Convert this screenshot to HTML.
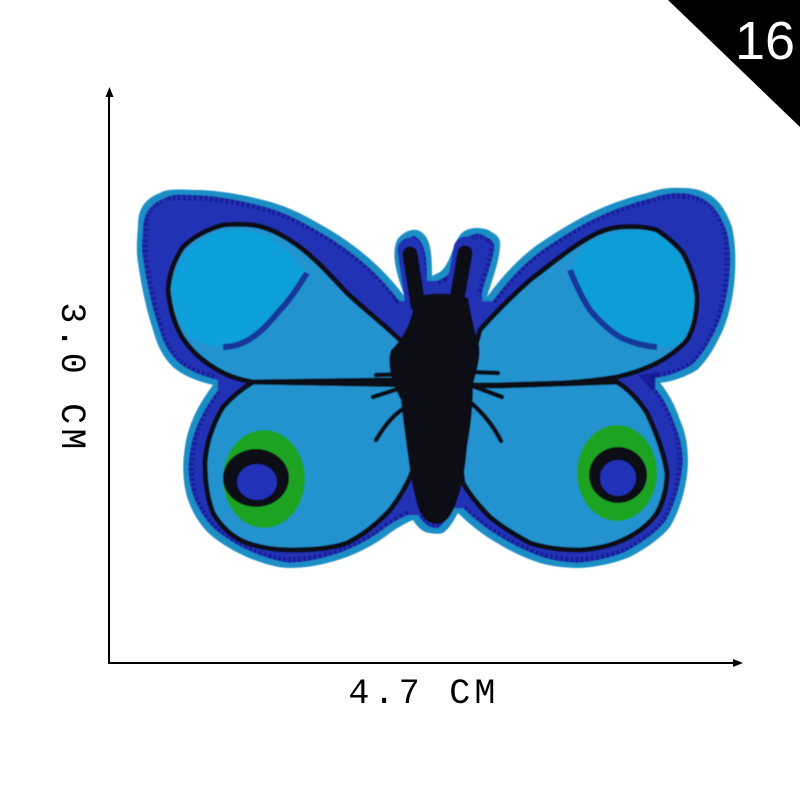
<!DOCTYPE html>
<html lang="en">
<head>
<meta charset="utf-8">
<title>Butterfly patch dimensions</title>
<style>
html,body{margin:0;padding:0;background:#fff;}
svg{display:block;}
</style>
</head>
<body>
<svg width="800" height="800" viewBox="0 0 800 800" xmlns="http://www.w3.org/2000/svg">
<defs>
<filter id="erode" x="-5%" y="-5%" width="110%" height="110%"><feMorphology operator="erode" radius="5"/></filter>
<filter id="soft" x="-5%" y="-5%" width="110%" height="110%"><feGaussianBlur stdDeviation="0.6"/></filter>
<path id="felt" d="M405 297C385 270 360 248 330 230C305 215 285 205 263 200C240 194 215 190 197 190C178 189 165 189 160 193C146 198 138 208 138 225C137 240 136 250 138 263C142 290 147 312 153 330C158 348 164 358 173 367C183 376 200 382 213 385C198 405 188 425 185 447C182 465 183 482 187 497C193 515 202 528 213 537C230 550 247 558 263 563C273 566 281 568 290 568C310 568 330 563 347 557C365 550 380 541 390 533C400 526 408 522 413 520C418 528 424 533 430 533C435 534 439 534 443 533C450 528 454 520 458 513C470 525 483 535 497 543C510 551 525 558 540 563C555 567 567 568 580 568C598 567 615 563 630 557C645 549 660 539 670 527C680 510 687 487 688 463C688 447 686 433 680 420C675 405 668 392 660 383C675 381 687 376 697 370C708 360 716 345 723 330C730 313 734 293 735 273C736 255 735 240 732 227C727 213 721 203 713 197C705 191 695 188 683 188C670 187 658 189 647 193C630 197 613 203 597 210C577 219 558 231 540 243C521 256 503 275 487 297C492 280 499 263 500 247C501 240 498 235 493 233C488 229 483 228 477 228C470 228 464 230 460 235C455 242 453 250 450 257C447 264 444 269 440 272L432 276C432 268 432 257 430 247C428 238 424 232 417 230C409 229 402 233 397 240C394 247 394 255 395 263C397 275 401 287 405 297Z"/>
<mask id="band-mask" maskUnits="userSpaceOnUse" x="0" y="0" width="800" height="800">
<use href="#felt" fill="#ffffff" filter="url(#erode)"/>
</mask>
</defs>

<rect width="800" height="800" fill="#ffffff"/>

<g>
<polygon points="668,0 800,0 800,127" fill="#000000"/>
<text x="765" y="59" text-anchor="middle" font-family="'Liberation Sans',sans-serif" font-size="54" fill="#ffffff">16</text>
</g>

<g fill="#000">
<rect x="108" y="94" width="2" height="570"/>
<polygon points="109.500,87 105.500,97 113.500,97"/>
<rect x="108" y="662" width="628" height="2"/>
<polygon points="743,663 733,659 733,667"/>
<text x="424" y="703" text-anchor="middle" font-family="'Liberation Mono',monospace" font-size="35" letter-spacing="4.200">4.7 CM</text>
<text transform="translate(62 378) rotate(90)" text-anchor="middle" font-family="'Liberation Mono',monospace" font-size="35" letter-spacing="4.200">3.0 CM</text>
</g>

<g filter="url(#soft)">
<use href="#felt" fill="#1e8ec6"/>
<use href="#felt" fill="#2030b4" filter="url(#erode)"/>
<g mask="url(#band-mask)">
<use href="#felt" fill="none" stroke="#141f96" stroke-width="22" stroke-dasharray="2.500 3"/>
</g>

<!-- wing interiors bounded by the black stitch line -->
<path d="M403 343C385 325 365 310 347 293C330 275 315 258 297 245C283 235 268 227 253 225C243 224 233 224 223 225C205 230 192 238 183 247C174 260 169 275 168 290C170 310 175 325 182 337C192 352 202 360 213 367C225 375 240 380 253 382L397 380Z" fill="#2293cf" stroke="#0b0d16" stroke-width="5" stroke-linejoin="round"/>
<path d="M253 382C240 390 231 398 223 407C212 425 206 445 205 463C205 482 208 500 213 513C222 528 234 538 247 543C262 548 275 550 290 550C310 550 330 549 347 543C363 535 378 523 390 510C400 497 408 483 413 470L420 385Z" fill="#2293cf" stroke="#0b0d16" stroke-width="5" stroke-linejoin="round"/>
<path d="M480 330C495 313 512 296 530 280C550 265 570 248 590 237C600 231 610 228 620 227C635 226 647 227 657 230C668 238 677 245 683 253C691 268 696 282 697 297C697 315 693 330 687 340C678 350 668 357 657 363C645 369 630 374 617 377C600 380 580 382 563 383L497 385L465 385Z" fill="#2293cf" stroke="#0b0d16" stroke-width="5" stroke-linejoin="round"/>
<path d="M617 382C630 390 640 402 647 413C656 432 664 452 667 473C667 488 663 502 657 513C648 526 636 534 623 540C610 546 595 549 580 550C563 550 545 548 530 543C515 535 502 527 490 517C480 507 470 495 463 483L450 385L497 386Z" fill="#2293cf" stroke="#0b0d16" stroke-width="5" stroke-linejoin="round"/>

<!-- satin wing-tip patches -->
<path d="M307 273C298 287 290 300 280 310C270 322 262 331 253 337C243 344 233 347 223 347C210 346 200 342 190 337C180 325 173 308 172 290C173 272 180 260 188 250C200 240 212 233 225 230C240 229 255 231 267 236C282 245 296 258 307 273Z" fill="#11a0da"/>
<path d="M307 273C298 287 290 300 280 310C270 322 262 331 253 337C243 344 233 347 223 347" fill="none" stroke="#15389a" stroke-width="6"/>
<path d="M570 270C576 285 582 298 590 310C600 322 610 331 620 337C632 343 645 346 657 347C667 347 675 346 682 342C689 332 694 318 694 300C692 280 687 268 680 256C672 245 665 237 655 233C645 230 635 230 625 231C613 233 602 237 590 242C582 250 575 260 570 270Z" fill="#0f9ed8"/>
<path d="M570 270C576 285 582 298 590 310C600 322 610 331 620 337C632 343 645 346 657 347" fill="none" stroke="#15389a" stroke-width="6"/>

<!-- eye spots -->
<g>
<ellipse cx="264" cy="479" rx="41" ry="49" fill="#1aa321"/>
<ellipse cx="256" cy="478" rx="33" ry="29" fill="#0b0d16"/>
<ellipse cx="257" cy="482" rx="20" ry="18" fill="#2230b8"/>
</g>
<g>
<ellipse cx="617" cy="473" rx="40" ry="48" fill="#1aa321"/>
<ellipse cx="618" cy="475" rx="29" ry="28" fill="#0b0d16"/>
<ellipse cx="618" cy="478" rx="18" ry="18" fill="#2230b8"/>
</g>

<!-- antennae -->
<g fill="none" stroke-linecap="round">
<path d="M410 250L418 305" stroke="#2030b4" stroke-width="25"/>
<path d="M466 249L456 305" stroke="#2030b4" stroke-width="25"/>
<path d="M410 254L418 305" stroke="#0b0d16" stroke-width="15"/>
<path d="M465 253L456 305" stroke="#0b0d16" stroke-width="15"/>
</g>

<!-- legs -->
<g fill="none" stroke="#0b0d16" stroke-width="4.500" stroke-linecap="round">
<path d="M410 374L376 375"/>
<path d="M410 385L373 397"/>
<path d="M410 405C395 412 385 425 376 440"/>
<path d="M470 372L498 373"/>
<path d="M470 385L502 397"/>
<path d="M470 402C482 412 493 425 501 441"/>
</g>

<!-- body -->
<path d="M416 298C428 292 450 292 468 298C471 315 474 330 479 345C481 358 476 372 473 385C473 410 470 430 467 447C465 472 461 490 456 503C452 514 448 522 438 524C428 524 423 518 419 510C414 495 411 478 409 463C406 440 403 420 401 400C393 385 386 365 391 350C402 340 411 325 416 298Z" fill="#0b0d16"/>
</g>
</svg>
</body>
</html>
